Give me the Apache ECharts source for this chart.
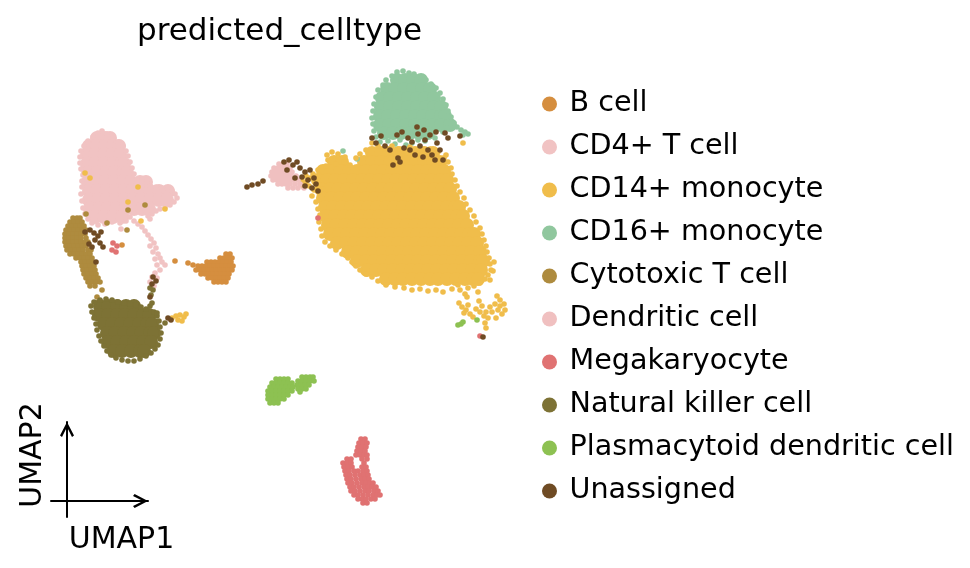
<!DOCTYPE html>
<html>
<head>
<meta charset="utf-8">
<script src="https://cdn.jsdelivr.net/npm/echarts@6/dist/echarts.min.js"></script>
<style>html,body{margin:0;padding:0;background:#fff;}#c{width:970px;height:568px;}</style>
</head>
<body>
<div id="c"></div>
<script>
// ---- categories and colours ----
const categories = ["B cell","CD4+ T cell","CD14+ monocyte","CD16+ monocyte","Cytotoxic T cell","Dendritic cell","Megakaryocyte","Natural killer cell","Plasmacytoid dendritic cell","Unassigned"];
const colors = ["#d58e3f","#f1c3c3","#f0bd4b","#90c79e","#ae8b3e","#f0c0c0","#e07272","#7d7235","#8dc152","#6f4b24"];

// ---- embedding values (UMAP1, UMAP2 in plot units) ----
// dense cores: each row = [UMAP2, UMAP1, UMAP1, ...]
const cd14CoreRows = [
[153,372,381,389,398,407,415,424,433],
[162,334,342,364,372,381,390,398,407,416,424,433,440],
[171,323,331,340,349,357,366,375,383,392,401,409,418,427,435,444],
[180,318,327,335,344,353,362,370,379,388,396,405,414,422,431,440,447],
[189,321,330,338,347,356,364,373,382,390,399,408,416,425,434,442,450],
[198,323,331,340,349,357,366,375,384,392,401,410,418,427,436,444,453],
[207,325,333,342,351,360,368,377,386,394,403,412,421,429,438,447,455,459],
[216,326,335,344,352,361,370,379,387,396,405,414,422,431,440,449,457,463],
[225,328,336,345,354,363,371,380,389,398,406,415,424,433,441,450,459,467],
[234,330,339,347,356,365,374,382,391,400,409,417,426,435,444,452,461,469,474],
[243,337,346,354,363,372,381,389,398,407,416,424,433,442,451,459,468,477],
[252,348,357,365,374,383,392,400,409,418,427,435,444,453,462,471,480],
[261,357,366,374,383,392,401,409,418,427,436,444,453,462,471,480,483],
[270,367,376,384,393,402,411,419,428,437,446,454,463,472,481],
[279,386,395,403,412,421,430,438,447,456,465,473,478]
];
const cd16CoreRows = [
[80,397,405,413,421],
[89,387,395,404,413,422,430],
[98,382,390,399,408,417,425,434],
[107,381,390,399,408,417,426,434,441],
[116,380,388,397,406,415,423,432,441,445],
[125,380,389,397,406,415,424,432,441,450],
[133,384,393,401,410,419,428]
];
const cd4CoreRows = [
[138,97,105,110],
[146,89,97,105,113,119],
[155,87,95,104,112,120],
[164,87,95,104,113,121,124],
[173,88,97,106,114,123,127],
[182,88,97,105,114,123,131,140,146],
[191,89,97,106,115,124,132,141,150,159,168],
[200,89,98,106,115,124,133,141,150,159,167],
[209,90,99,107,116,125,134,142,149],
[217,95,104,113,122]
];
const nkCoreRows = [
[306,100,108,117,126,134],
[315,99,108,117,125,134,143,149],
[324,104,112,121,130,139,147,152],
[333,107,115,124,133,141,150,154],
[342,108,117,126,134,143,151],
[351,114,122,131,140,144]
];
// small dense groups, same row layout
const bCellRows = [
[254,226,230],
[258,220,224,228,232],
[262,207,211,215,219,223,227,231],
[266,198,202,206,210,214,218,222,226,230,233],
[270,196,200,204,208,212,216,220,224,228,232],
[274,201,205,209,213,217,221,225,229],
[278,208,212,216,220,224,228],
[282,214,218,222,226]
];
const cytotoxicRows = [
[218,73,77,80],
[222,70,74,78,82],
[226,68,72,76,80,84],
[230,66,70,74,78,82,86],
[234,65,69,73,77,81,85],
[238,65,69,73,77,81,86],
[242,65,69,73,77,81,85,88],
[246,66,70,74,78,82,86],
[250,67,71,75,79,83,88,91],
[254,70,74,78,82,86,90],
[258,76,80,84,88,92],
[262,81,85,89,93],
[266,82,86,90,94],
[270,83,87,91,95],
[274,84,88,92,96],
[278,86,90,94,98],
[282,88,92,96,100],
[286,90,95]
];
const dendriticRows = [
[164,279,283,287],
[168,274,278,282,286,290],
[172,272,276,280,284,288,292],
[176,271,275,279,283,287,291,296],
[180,273,277,281,285,289,293,298],
[184,278,282,286,290,295,300],
[188,288,293,298,304]
];
const megaRows = [
[439,361,365],
[443,359,363,367],
[447,358,362,366],
[451,357,361,365],
[455,356,360,364,367],
[459,347,351,362,367],
[463,343,347,351,364],
[467,344,348,352,362,366],
[471,345,349,354,358,363,367],
[475,346,350,355,360,364,368],
[479,347,351,356,361,365,369],
[483,348,352,357,362,366,370,373],
[487,350,354,359,364,368,372,376],
[491,351,355,360,365,369,374,378],
[495,354,358,363,368,373,377,380],
[499,358,362,366,371,375],
[503,363,367]
];
const pdcRows = [
[377,302,306,310,313],
[379,276,280,284,288],
[381,298,302,306,310,314],
[383,272,276,280,284,288,292],
[385,297,301,305,309],
[387,270,274,278,282,286,290,293],
[389,298,302,306],
[391,268,272,276,280,284,288,292],
[392,300],
[395,268,272,276,280,284,288],
[399,268,272,276,280,284],
[403,270,274,278]
];
// scattered cells: flat [UMAP1, UMAP2, UMAP1, UMAP2, ...]
const cd14Scatter = [
372,143,378,146,385,148,366,150,392,146,400,149,410,147,420,150,430,149,438,152,446,155,360,154,356,158,
327,155,332,152,338,154,345,157,328,160,336,164,344,162,350,165,326,166,
318,170,313,174,310,178,306,182,303,186,309,186,314,190,312,196,316,202,318,209,320,215,319,222,321,229,322,236,
325,242,330,246,336,250,342,254,348,258,352,262,356,266,360,270,366,274,372,277,378,281,386,285,395,287,404,288,
412,290,420,289,428,291,436,290,443,292,452,289,460,290,468,288,474,286,480,283,485,279,488,275,491,270,490,264,
489,258,487,252,486,246,484,240,482,234,480,228,476,222,474,216,470,210,466,204,464,198,460,192,457,186,455,180,
452,174,451,168,448,162,444,158,306,176,302,181,494,262,493,271,490,280,478,292,465,294,458,285,463,143,323,189,
467,297,497,296,500,300,504,304,505,310,500,306,495,304,490,307,486,312,492,312,488,318,485,323,486,328,484,316,
480,312,482,306,479,301,496,318,502,314,498,310,459,303,462,307,466,310,470,314,473,317,464,313,468,305,476,309,
85,173,90,178,138,187,128,202,165,209,141,221,
172,318,176,316,180,315,184,317,178,320,182,321,186,314
];
const cd16Scatter = [
397,72,403,71,409,73,414,74,392,76,386,80,420,77,426,80,431,84,383,85,378,90,436,88,440,93,376,97,443,99,
374,104,446,105,373,111,448,111,372,118,451,117,373,124,454,123,457,127,461,130,465,132,468,134,463,135,
374,131,376,137,380,142,388,141,400,140,412,143,425,141,435,138,443,132,447,128,380,130,343,151,357,159,
395,144,406,145,418,140
];
const cd4Scatter = [
102,131,98,133,107,134,93,137,113,138,88,141,118,142,84,146,123,146,81,151,126,151,80,157,128,156,80,163,
130,162,81,169,132,168,83,175,134,174,82,181,137,180,142,181,147,183,150,186,156,187,162,188,168,189,172,191,
175,194,177,198,174,202,170,205,165,207,160,209,156,211,152,214,148,216,82,187,81,194,82,201,83,208,85,214,
88,219,92,223,98,225,105,224,112,222,120,223,126,221,130,217,150,219,121,229,
134,221,138,224,142,227,145,231,148,235,151,239,154,243,150,246,156,248,153,252,158,254,160,258,155,259,
162,262,157,265,165,265,160,270,155,273,152,277,157,278,150,282,154,286
];
const nkScatter = [
94,302,100,300,106,299,112,300,118,302,124,303,130,304,136,305,141,307,146,309,150,306,152,303,151,295,153,290,
150,288,154,312,157,316,159,321,160,327,161,333,160,339,158,345,155,349,151,353,146,356,140,359,134,361,128,361,
122,360,116,358,111,355,107,351,104,346,101,341,99,336,97,330,96,324,94,318,92,312,91,306,165,323,157,313
];
const bCellScatter = [175,261,188,263,193,265,122,245];
const cytotoxicScatter = [102,290,97,297,86,214,128,210,145,205,127,230,107,223];
const megaScatter = [113,243,117,246,112,250,116,252,318,218,480,336];
const pdcScatter = [458,325,461,324,463,322,477,320];
const unassignedScatter = [
372,138,376,143,381,136,385,146,390,150,397,135,402,132,404,148,408,138,412,142,415,155,418,134,420,146,423,157,
425,140,428,150,430,135,432,155,436,132,437,143,440,150,443,160,445,133,448,138,460,136,435,160,398,158,393,165,
400,162,410,150,417,127,424,130,
247,187,252,185,258,184,263,181,284,162,289,160,293,165,297,162,300,168,305,172,310,170,302,177,308,180,314,178,
295,178,312,188,316,184,318,191,305,186,287,170,
90,230,94,233,98,236,101,232,95,240,100,243,103,247,92,247,96,262,85,232,89,244,
153,277,156,281,152,284,150,297,168,318,171,320,483,337
];

// ---- text ----
const titleText = "predicted_celltype";
const axisNames = ["UMAP1", "UMAP2"];

// ---- helpers building library data from the arrays ----
function fromRows(rows) {
  const out = [];
  rows.forEach(r => { for (let i = 1; i < r.length; i++) out.push([r[i], r[0]]); });
  return out;
}
function fromFlat(a) {
  const out = [];
  for (let i = 0; i + 1 < a.length; i += 2) out.push([a[i], a[i + 1]]);
  return out;
}
const FONT = "DejaVu Sans";
function sc(catIndex, data, size) {
  return {
    type: "scatter", name: categories[catIndex], data: data,
    xAxisIndex: 0, yAxisIndex: 0, symbol: "circle", symbolSize: size,
    itemStyle: { color: colors[catIndex], opacity: 1 },
    emphasis: { disabled: true }, silent: true
  };
}
const CORE = 14, DOT = 5.6;
const series = [
  sc(2, fromRows(cd14CoreRows), CORE),
  sc(3, fromRows(cd16CoreRows), CORE),
  sc(1, fromRows(cd4CoreRows), CORE),
  sc(7, fromRows(nkCoreRows), CORE),
  sc(0, fromRows(bCellRows).concat(fromFlat(bCellScatter)), DOT),
  sc(1, fromFlat(cd4Scatter), DOT),
  sc(3, fromFlat(cd16Scatter), DOT),
  sc(2, fromFlat(cd14Scatter), DOT),
  sc(4, fromRows(cytotoxicRows).concat(fromFlat(cytotoxicScatter)), DOT),
  sc(5, fromRows(dendriticRows), DOT),
  sc(6, fromRows(megaRows).concat(fromFlat(megaScatter)), DOT),
  sc(7, fromFlat(nkScatter), DOT),
  sc(8, fromRows(pdcRows).concat(fromFlat(pdcScatter)), DOT),
  sc(9, fromFlat(unassignedScatter), DOT)
];

const chevron = "path://M7,0 L14,13.4 L12,15 L7,5 L2,15 L0,13.4 Z";
const arrowAxisLine = {
  show: true, onZero: true,
  symbol: ["none", chevron], symbolSize: [14, 15], symbolOffset: [0, -7.5],
  lineStyle: { color: "#000", width: 2 }
};

const option = {
  animation: false,
  backgroundColor: "#fff",
  title: {
    text: titleText, left: 137, top: 16, padding: 0,
    textStyle: { fontFamily: FONT, fontSize: 31, fontWeight: "normal", color: "#000" }
  },
  legend: {
    data: categories, orient: "vertical", left: 537, top: 84,
    icon: "circle", itemWidth: 30, itemHeight: 15, itemGap: 13,
    selectedMode: false,
    textStyle: { fontFamily: FONT, fontSize: 28.6, lineHeight: 30, color: "#000" }
  },
  grid: [
    { left: 0, right: 0, top: 0, bottom: 0 },
    { left: 51, top: 422, width: 97, height: 95 }
  ],
  xAxis: [
    { type: "value", gridIndex: 0, min: 0, max: 970, show: false },
    { type: "value", gridIndex: 1, min: -16, max: 81,
      axisLine: arrowAxisLine, axisTick: { show: false }, axisLabel: { show: false }, splitLine: { show: false },
      name: axisNames[0], nameLocation: "middle", nameGap: 8,
      nameTextStyle: { fontFamily: FONT, fontSize: 30, color: "#000", padding: [0, 0, 0, 44] } }
  ],
  yAxis: [
    { type: "value", gridIndex: 0, min: 0, max: 568, inverse: true, show: false },
    { type: "value", gridIndex: 1, min: -16, max: 79,
      axisLine: arrowAxisLine, axisTick: { show: false }, axisLabel: { show: false }, splitLine: { show: false },
      name: axisNames[1], nameLocation: "middle", nameGap: 3, nameRotate: 90,
      nameTextStyle: { fontFamily: FONT, fontSize: 30, color: "#000", padding: [0, 0, 0, 29] } }
  ],
  series: series
};
const chart = echarts.init(document.getElementById("c"), null, { renderer: "canvas" });
chart.setOption(option);
</script>
</body>
</html>
